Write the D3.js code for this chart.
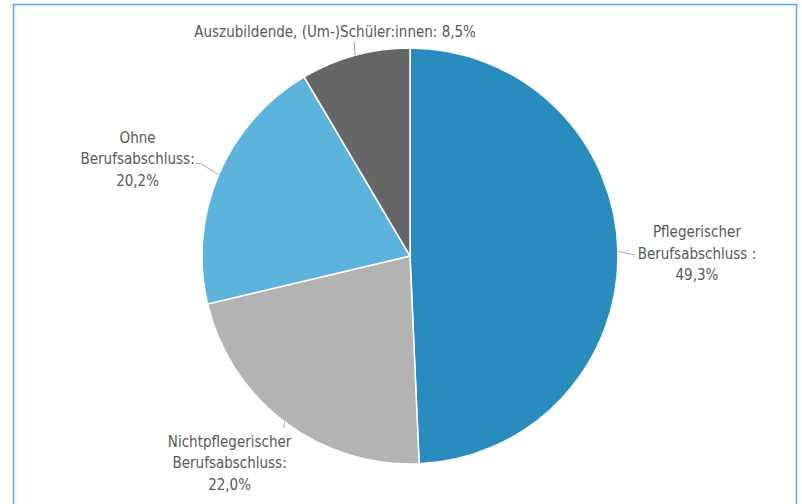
<!DOCTYPE html>
<html>
<head>
<meta charset="utf-8">
<script src="https://cdn.jsdelivr.net/npm/d3@7"></script>
<style>
  body { margin: 0; background: #fff; }
  svg text { font-family: "Liberation Sans Narrow", "DejaVu Sans Condensed", sans-serif; fill: #575757; }
</style>
</head>
<body>
<div id="chart"></div>
<script>
// shares of the group, clockwise from 12 o'clock
const categories = [
  ["Pflegerischer", "Berufsabschluss :"],
  ["Nichtpflegerischer", "Berufsabschluss:"],
  ["Ohne", "Berufsabschluss:"],
  ["Auszubildende, (Um-)Schüler:innen:"]
];
const values = [49.3, 22.0, 20.2, 8.5];
const valueLabels = ["49,3%", "22,0%", "20,2%", "8,5%"];
const colors = ["#2a8cbe", "#b3b3b3", "#5cb4dc", "#666666"];

const width = 802, height = 504;
const cx = 410, cy = 256, radius = 208;

const svg = d3.select("#chart").append("svg")
  .attr("width", width)
  .attr("height", height);

// frame (open at the bottom)
svg.append("path")
  .attr("d", "M13.5,504 V4.5 H796.5 V504")
  .attr("fill", "none")
  .attr("stroke", "#5aaedb")
  .attr("stroke-width", 1.5);

const g = svg.append("g").attr("transform", `translate(${cx},${cy})`);

const pie = d3.pie().sort(null).value(d => d);
const arcs = pie(values);
const arc = d3.arc().innerRadius(0).outerRadius(radius);

g.selectAll("path.slice")
  .data(arcs)
  .enter()
  .append("path")
  .attr("class", "slice")
  .attr("d", arc)
  .attr("fill", (d, i) => colors[i])
  .attr("stroke", "#fff")
  .attr("stroke-width", 1.5);

// point on the rim at the middle of each slice
const rim = d => {
  const a = (d.startAngle + d.endAngle) / 2;
  return [radius * Math.sin(a), -radius * Math.cos(a)];
};

// leader bends and label anchors, relative to the rim point
const labelLayout = [
  { leg: [[17, 3.5]], tx: 79, ty: -14 },
  { leg: [[-1, 6]], tx: -55, ty: 25 },
  { leg: [[-18, -11], [-23, -11]], tx: -81, ty: -32 },
  { leg: [[-1, -14]], tx: -20, ty: -18 }
];

arcs.forEach((d, i) => {
  const p = rim(d);
  const lay = labelLayout[i];
  const pts = [p].concat(lay.leg.map(o => [p[0] + o[0], p[1] + o[1]]));
  g.append("path")
    .attr("d", d3.line()(pts))
    .attr("fill", "none")
    .attr("stroke", "#a6a6a6")
    .attr("stroke-width", 1);

  const t = g.append("text")
    .attr("text-anchor", "middle")
    .attr("font-size", 15)
    .attr("x", p[0] + lay.tx)
    .attr("y", p[1] + lay.ty);

  const lines = categories[i];
  if (lines.length === 1) {
    t.append("tspan").text(lines[0] + "  " + valueLabels[i]);
  } else {
    lines.concat([valueLabels[i]]).forEach((ln, j) => {
      t.append("tspan")
        .attr("x", p[0] + lay.tx)
        .attr("dy", j === 0 ? 0 : 21.5)
        .text(ln);
    });
  }
});
</script>
</body>
</html>
